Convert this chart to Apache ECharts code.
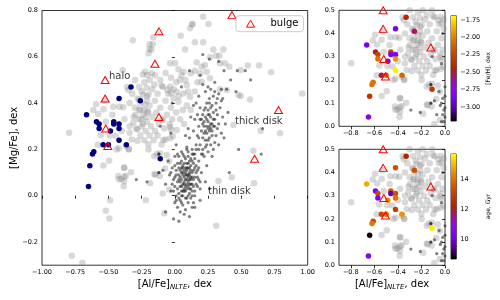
<!DOCTYPE html>
<html><head><meta charset="utf-8">
<script src="https://cdn.jsdelivr.net/npm/echarts@6/dist/echarts.min.js"></script>
<style>html,body{margin:0;padding:0;background:#fff}#c{width:500px;height:300px}</style>
</head><body><div id="c"></div>
<script>
// ---- DATA ----
// halo stars: [Al/Fe], [Mg/Fe], [Fe/H], age (Gyr)
const haloX = [-0.33,-0.42,-0.26,-0.665,-0.59,-0.57,-0.46,-0.46,-0.42,-0.57,-0.485,-0.42,-0.42,-0.54,-0.50,-0.365,-0.61,-0.62,-0.11,-0.64,-0.65];
const haloY = [0.47,0.42,0.41,0.35,0.32,0.31,0.32,0.31,0.31,0.29,0.28,0.29,0.24,0.22,0.22,0.22,0.19,0.18,0.16,0.13,0.04];
const haloFeH = [-2.42,-2.85,-2.55,-2.88,-2.50,-2.25,-2.25,-2.85,-2.85,-2.05,-2.85,-1.93,-1.72,-2.50,-2.10,-2.10,-2.05,-2.05,-2.30,-2.32,-2.80];
const haloAge = [12.3,13.4,13.4,14.8,10.3,13.2,13.5,9.6,13.3,10.2,14.4,14.0,13.0,13.2,14.0,14.5,13.2,14.1,15.5,8.75,10.3];
// bulge stars
const bulgeX = [-0.525,-0.525,-0.52,-0.505,-0.15,-0.12,-0.12,0.43,0.78,0.60];
const bulgeY = [0.50,0.42,0.29,0.215,0.57,0.71,0.34,0.78,0.37,0.16];
// comparison sample (light grey)
const fieldStars = [
[-0.796,0.272],[-0.776,-0.259],[-0.696,-0.289],[-0.614,0.37],[-0.577,0.353],[-0.593,0.395],[-0.538,0.373],[-0.463,0.384],[-0.418,0.384],[-0.388,0.382],
[-0.558,0.262],[-0.446,0.258],[-0.421,0.205],[-0.346,0.202],[-0.2,0.222],[-0.282,0.238],[-0.495,0.151],[-0.33,0.101],[-0.404,0.072],[-0.37,0.086],
[-0.186,0.054],[-0.487,-0.019],[-0.219,-0.02],[-0.52,-0.065],[-0.493,-0.098],[-0.538,0.131],[-0.438,0.2],[-0.381,0.121],[-0.381,0.081],[-0.421,0.071],
[-0.385,0.041],[-0.347,0.2],[-0.147,0.091],[-0.136,0.18],[-0.087,0.327],[-0.036,0.298],[-0.087,0.241],[-0.036,0.248],[0.014,0.284],[-0.111,0.183],
[-0.061,0.176],[-0.074,0.118],[-0.154,0.094],[-0.091,0.01],[-0.079,-0.076],[0.328,0.064],[0.428,0.08],[0.591,0.194],[0.646,0.281],[0.441,0.305],
[0.312,-0.13],[0.596,0.054],[-0.317,0.672],[-0.191,0.654],[-0.166,0.654],[-0.191,0.634],[-0.176,0.63],[-0.198,0.615],[-0.163,0.684],[-0.393,0.542],
[-0.35,0.457],[-0.036,0.572],[0.002,0.572],[-0.224,0.536],[-0.207,0.521],[-0.241,0.524],[-0.174,0.529],
[0.213,0.773],[0.135,0.742],[0.253,0.742],[0.044,0.691],[0.151,0.663],[0.213,0.663],[0.077,0.632],[0.29,0.632],[0.365,0.632],[0.335,0.605],
[0.31,0.605],[0.265,0.598],[0.549,0.562],[0.634,0.562],[0.724,0.533],[0.496,0.543],[0.378,0.572],[0.34,0.572],[0.41,0.557],[0.959,0.442],
[0.566,0.416],[0.496,0.431],[0.027,0.546],[0.064,0.536],[0.164,0.576],[0.202,0.557],[0.226,0.565],[0.12,0.529],[0.151,0.54],[0.19,0.529],
[0.24,0.536],[0.265,0.507],[0.202,0.492],[0.039,0.5],[0.089,0.478],[0.34,0.46],[0.391,0.457],[0.479,0.435],[-0.036,0.471],[0.014,0.449],
[0.064,0.442],[-0.011,0.421],[0.027,0.406],[0.114,0.428],[0.792,0.27],[0.115,0.723],[0.128,0.74],
[-0.155,0.48],[-0.1,0.475],[-0.057,0.458],[-0.028,0.444],[-0.212,0.466],[-0.24,0.437],[-0.198,0.437],[-0.269,0.415],[-0.227,0.394],[-0.206,0.365],
[-0.269,0.372],[-0.297,0.35],[-0.254,0.329],[-0.312,0.315],[-0.283,0.286],[-0.34,0.272],[-0.325,0.243],[-0.368,0.214],[-0.382,0.121],[-0.425,0.085],
[-0.382,0.063],[-0.198,0.2],[-0.155,0.171],[-0.071,0.243],[-0.028,0.286],[-0.015,0.257],[-0.1,0.221],[-0.043,0.149],[-0.043,0.027],[-0.113,0.085],
[-0.30,0.50],[-0.27,0.47],[-0.23,0.49],[-0.19,0.50],[-0.15,0.52],[-0.11,0.50],[-0.07,0.53],[-0.03,0.51],[0.01,0.49],[0.05,0.52],
[-0.32,0.44],[-0.28,0.42],[-0.25,0.45],[-0.21,0.43],[-0.17,0.46],[-0.13,0.44],[-0.09,0.47],[-0.05,0.44],[-0.01,0.46],[0.03,0.43],
[-0.34,0.40],[-0.30,0.38],[-0.26,0.40],[-0.23,0.37],[-0.19,0.39],[-0.15,0.41],[-0.11,0.38],[-0.07,0.41],[-0.03,0.38],[0.01,0.36],
[-0.31,0.34],[-0.27,0.33],[-0.24,0.35],[-0.21,0.32],[-0.17,0.34],[-0.14,0.36],[-0.10,0.33],[-0.06,0.35],[-0.02,0.33],[0.04,0.33],
[-0.29,0.29],[-0.25,0.30],[-0.22,0.28],[-0.18,0.30],[-0.15,0.28],[-0.12,0.31],[-0.08,0.29],[-0.04,0.31],[0.07,0.31],[0.06,0.37],
[-0.26,0.26],[-0.23,0.24],[-0.19,0.26],[-0.16,0.24],[-0.13,0.26],[-0.21,0.41],[-0.24,0.31],[-0.22,0.34],[-0.20,0.36],[-0.26,0.37],
[-0.36,0.47],[-0.34,0.30],[-0.38,0.33],[-0.40,0.28],[-0.44,0.31],[-0.47,0.35],[-0.49,0.26],[-0.52,0.32],[-0.58,0.22],[-0.53,0.41],
[0.09,0.39],[0.10,0.45],[0.08,0.50],[0.12,0.37],[0.15,0.45],[0.17,0.49]
];
// thin disk stars (dark)
const thinDisk = [
[0.05,0.10],[0.07,0.11],[0.09,0.09],[0.11,0.10],[0.08,0.07],[0.10,0.06],[0.06,0.05],[0.12,0.08],[0.04,0.08],[0.13,0.05],
[0.03,0.12],[0.06,0.13],[0.10,0.12],[0.14,0.11],[0.08,0.04],[0.11,0.03],[0.05,0.02],[0.02,0.06],[0.15,0.08],[0.09,0.14],
[0.07,0.02],[0.12,0.13],[0.01,0.09],[0.04,0.04],[0.13,0.02],[0.16,0.05],[0.10,0.00],[0.06,0.00],[0.03,0.01],[0.08,0.12],
[0.12,0.16],[0.05,0.15],[0.02,0.14],[0.14,0.14],[0.17,0.11],[0.00,0.04],[0.07,0.17],[0.10,0.17],[0.15,0.02],[0.09,-0.01],
[0.04,-0.02],[0.12,-0.01],[0.01,0.00],[-0.01,0.07],[0.18,0.07],[0.16,0.13],[0.03,0.17],[0.11,0.07],[0.07,0.08],[0.09,0.05],
[0.05,0.07],[0.13,0.10],[0.08,0.10],[0.06,0.10],[0.10,0.09],[0.12,0.05],[0.07,0.05],[0.11,0.12],[0.04,0.11],[0.09,0.03],
[0.06,0.09],[0.08,0.09],[0.10,0.08],[0.12,0.07],[0.07,0.06],[0.09,0.07],[0.11,0.05],[0.05,0.04],[0.08,0.02],[0.10,0.04],
[0.06,0.12],[0.09,0.11],[0.11,0.09],[0.13,0.08],[0.04,0.06],[0.03,0.09],[0.07,0.14],[0.10,0.14],[0.12,0.11],[0.14,0.07],
[0.05,0.00],[0.08,-0.01],[0.11,0.01],[0.13,0.00],[0.02,0.03],[0.03,-0.01],[0.06,0.02],[0.14,0.04],[0.16,0.10],[0.15,0.12],
[0.01,0.11],[0.00,0.13],[0.04,0.14],[0.08,0.16],[0.11,0.15],[0.13,0.15],[0.17,0.08],[0.17,0.04],[-0.01,0.02],[0.02,0.18],
[0.06,0.18],[0.10,0.19],[0.13,0.18],[0.15,0.16],[0.18,0.12],[0.19,0.06],[0.01,-0.02],[0.05,-0.03],[0.10,-0.03],[0.13,-0.05],
[0.07,0.03],[0.09,0.12],[0.05,0.12],[0.12,0.03],[0.03,0.07],[0.15,0.00],[-0.02,0.05],[-0.03,0.10],[0.00,0.08],[0.07,-0.08],
[-0.02,0.12],[-0.03,0.02],[0.00,-0.03],[0.02,-0.05],[0.06,-0.04],[0.14,-0.03],[0.19,0.03],[0.20,0.10],[0.18,0.15],[0.14,0.18],
[0.05,0.19],[0.00,0.17],[-0.04,0.09],[-0.05,0.15],[0.09,0.20],[0.16,0.20],[0.21,0.18],[0.01,0.22],[-0.07,0.05],[-0.07,-0.07],
[-0.01,-0.10],[0.04,-0.07],[0.15,-0.05],[0.08,-0.06],[0.19,-0.02],[0.23,0.06],[-0.09,0.11],[-0.12,0.10],[-0.12,0.18],[-0.21,0.06],
[-0.29,0.07],[0.11,-0.09],[0.24,0.13],[0.03,-0.11]
];
// thick disk stars (dark)
const thickDisk = [
[0.22,0.30],[0.25,0.32],[0.27,0.29],[0.24,0.27],[0.29,0.33],[0.26,0.35],[0.23,0.34],[0.20,0.28],[0.28,0.26],[0.30,0.30],
[0.21,0.25],[0.25,0.24],[0.32,0.35],[0.27,0.38],[0.24,0.40],[0.31,0.40],[0.34,0.38],[0.29,0.43],[0.20,0.33],[0.18,0.30],
[0.17,0.26],[0.19,0.22],[0.23,0.21],[0.27,0.22],[0.31,0.26],[0.33,0.31],[0.36,0.34],[0.22,0.37],[0.19,0.38],[0.15,0.33],
[0.14,0.28],[0.16,0.22],[0.13,0.20],[0.20,0.18],[0.25,0.19],[0.29,0.20],[0.35,0.27],[0.38,0.31],[0.33,0.44],[0.27,0.46],
[0.23,0.45],[0.18,0.43],[0.14,0.39],[0.12,0.34],[0.11,0.25],[0.09,0.21],[0.21,0.48],[0.30,0.49],[0.36,0.42],[0.40,0.36],
[0.26,0.28],[0.24,0.30],[0.22,0.27],[0.28,0.31],[0.26,0.25],[0.23,0.24],[0.29,0.36],[0.25,0.37],[0.21,0.31],[0.30,0.23],
[0.17,0.35],[0.16,0.40],[0.33,0.22],[0.37,0.25],[0.10,0.29],[0.08,0.26],
[0.23,0.28],[0.25,0.29],[0.27,0.31],[0.24,0.33],[0.26,0.30],[0.28,0.28],[0.22,0.32],[0.25,0.35],[0.27,0.34],[0.29,0.30],
[0.23,0.38],[0.26,0.40],[0.28,0.39],[0.31,0.37],[0.30,0.33],[0.32,0.29],[0.24,0.22],[0.21,0.20],[0.18,0.25],[0.19,0.33],
[0.21,0.35],[0.26,0.42],[0.32,0.42],[0.35,0.46],[0.30,0.45],[0.25,0.47],[0.18,0.20],[0.15,0.18],[0.22,0.17],[0.28,0.17],
[0.21,0.61],[0.26,0.59],[0.33,0.58],[0.47,0.54],[0.57,0.50],[0.42,0.50],[0.53,0.54],[0.39,0.46],[0.35,0.41],[0.11,0.54],
[0.37,0.54],[0.46,0.45],[0.19,0.52],[0.05,0.47],[-0.02,0.40],
[-0.11,0.30],[-0.03,0.27],[-0.12,0.18],[-0.12,0.10],[0.66,0.29],[0.48,0.20],[0.41,0.10],[0.26,0.03],[0.65,0.18]
];
const mainXTicks = [-1,-0.75,-0.5,-0.25,0,0.25,0.5,0.75,1];
const mainYTicks = [-0.2,0,0.2,0.4,0.6,0.8];
const sideXTicks = [-0.8,-0.6,-0.4,-0.2,0];
const sideYTicks = [0,0.1,0.2,0.3,0.4,0.5];
const fehTicks = [-3,-2.75,-2.5,-2.25,-2,-1.75];
const ageTicks = [10,12,14];
const fehRange = [-3.2,-1.69];
const ageRange = [8.67,15.67];

// ---- STYLE ----
const FONT = 'DejaVu Sans';
const gnuplot = ['#000000','#510096','#7202f2','#8c07f2','#a11096','#b42000','#c63700','#d55700','#e48300','#f2ba00','#ffff00'];
const fmt = d => v => (v < -1e-9 ? '\u2212' : '') + Math.abs(v).toFixed(d);
const dark = [...thinDisk, ...thickDisk];
const halo = haloX.map((x,i)=>[x,haloY[i]]);
const haloFe = haloX.map((x,i)=>[x,haloY[i],haloFeH[i]]);
const haloAg = haloX.map((x,i)=>[x,haloY[i],haloAge[i]]);
const bulge = bulgeX.map((x,i)=>[x,bulgeY[i]]);

function xAx(idx, min, max, ticks, dec, name){
  const a = {gridIndex: idx, type:'value', min, max, scale:true,
    axisLine:{show:false}, splitLine:{show:false},
    axisTick:{show:true, length:3, inside:false, lineStyle:{color:'#000',width:0.8}, customValues:ticks},
    axisLabel:{show:true, margin:4, fontSize:6.5, fontFamily:FONT, color:'#000', formatter:fmt(dec), customValues:ticks}};
  if (name){
    a.name = '[Al/Fe]{s|NLTE}, dex'; a.nameLocation='middle'; a.nameGap=13; a.nameMoveOverlap=false;
    a.nameTextStyle = {fontSize:10, fontFamily:FONT, color:'#000', rich:{s:{fontSize:7, fontStyle:'italic', fontFamily:FONT, color:'#000', padding:[5,0,0,0]}}};
  }
  return a;
}
function yAx(idx, min, max, ticks, dec, pos, name, gap){
  const a = {gridIndex: idx, type:'value', min, max, position:pos||'left',
    axisLine:{show:false}, splitLine:{show:false},
    axisTick:{show:true, length:3, lineStyle:{color:'#000',width:0.8}, customValues:ticks},
    axisLabel:{show:true, margin:4, fontSize:6.5, fontFamily:FONT, color:'#000', formatter:fmt(dec), customValues:ticks}};
  if (name){ a.name=name; a.nameLocation='middle'; a.nameGap=gap; a.nameRotate=90; a.nameMoveOverlap=false;
    a.nameTextStyle={fontSize: pos==='right'?6:10, fontFamily:FONT, color:'#000'}; }
  return a;
}
const gridBase = {show:true, borderColor:'#000', borderWidth:0.8, backgroundColor:'transparent', containLabel:false, outerBoundsMode:'none'};
const lightStyle = {color:'rgba(128,128,128,0.3)', opacity:1};
const darkStyle = {color:'rgba(25,25,25,0.55)', opacity:1};
const triStyle = {color:'rgba(255,255,255,0)', borderColor:'#ff0000', borderWidth:1, opacity:1};

function panelSeries(gi, haloData, colorByVM){
  return [
    {type:'scatter', xAxisIndex:gi, yAxisIndex:gi, data:fieldStars, symbolSize:6.5, itemStyle:lightStyle, silent:true},
    {type:'scatter', xAxisIndex:gi, yAxisIndex:gi, data:dark, symbolSize:3.2, itemStyle:darkStyle, silent:true},
    colorByVM ? {type:'scatter', xAxisIndex:gi, yAxisIndex:gi, data:haloData, symbolSize:5.5, itemStyle:{opacity:1}, silent:true}
              : {type:'scatter', xAxisIndex:gi, yAxisIndex:gi, data:haloData, symbolSize:5.5, itemStyle:{color:'#000080', opacity:1}, silent:true},
    {type:'scatter', name:'bulge', xAxisIndex:gi, yAxisIndex:gi, data:bulge, symbol:'triangle', symbolSize:[8,7], itemStyle:triStyle, silent:true}
  ];
}
function cbarSeries(gi, range){
  return {type:'custom', xAxisIndex:gi, yAxisIndex:gi, data:[[0.5, range[0]]], silent:true,
    renderItem:(params, api)=>{
      const cs = params.coordSys;
      return {type:'rect', shape:{x:cs.x, y:cs.y, width:cs.width, height:cs.height},
        style:{fill:new echarts.graphic.LinearGradient(0,1,0,0, gnuplot.map((c,i)=>({offset:i/(gnuplot.length-1), color:c})))}};
    }};
}

const chart = echarts.init(document.getElementById('c'), null, {renderer:'canvas'});
chart.setOption({
  animation:false,
  backgroundColor:'#fff',
  grid:[
    Object.assign({left:42, top:10.5, width:265.7, height:254.7}, gridBase),
    Object.assign({left:339, top:10.3, width:106, height:116}, gridBase),
    Object.assign({left:339, top:149.3, width:106, height:116}, gridBase),
    Object.assign({left:451, top:15.7, width:5.3, height:105.3}, gridBase),
    Object.assign({left:451, top:154, width:5.3, height:105}, gridBase)
  ],
  xAxis:[
    xAx(0,-1,1,mainXTicks,2,true),
    xAx(1,-0.9,0,sideXTicks,1,false),
    xAx(2,-0.9,0,sideXTicks,1,true),
    {gridIndex:3, type:'value', min:0, max:1, show:false},
    {gridIndex:4, type:'value', min:0, max:1, show:false}
  ],
  yAxis:[
    yAx(0,-0.3,0.8,mainYTicks,1,'left','[Mg/Fe], dex',23),
    yAx(1,0,0.5,sideYTicks,1,'left'),
    yAx(2,0,0.5,sideYTicks,1,'left'),
    yAx(3,fehRange[0],fehRange[1],fehTicks,2,'right','[Fe/H], dex',29),
    yAx(4,ageRange[0],ageRange[1],ageTicks,0,'right','age, Gyr',29)
  ],
  visualMap:[
    {type:'continuous', show:false, seriesIndex:6, dimension:2, min:fehRange[0], max:fehRange[1], inRange:{color:gnuplot}},
    {type:'continuous', show:false, seriesIndex:10, dimension:2, min:ageRange[0], max:ageRange[1], inRange:{color:gnuplot}}
  ],
  legend:{data:['bulge'], left:236, top:15.7, orient:'horizontal', padding:[3,5,3,10], itemWidth:8, itemHeight:7,
    backgroundColor:'#fff', borderColor:'#cccccc', borderWidth:1, borderRadius:3, selectedMode:false,
    itemStyle:{color:'rgba(255,255,255,0)', borderColor:'#ff0000', borderWidth:1},
    textStyle:{fontSize:10, fontFamily:FONT, color:'#000', padding:[0,0,0,11]}},
  graphic:[
    {type:'text', left:109, top:71.5, silent:true, style:{text:'halo', fontSize:10, fontFamily:FONT, fill:'#3a3a3a'}},
    {type:'text', left:235, top:116, silent:true, style:{text:'thick disk', fontSize:10, fontFamily:FONT, fill:'#3a3a3a'}},
    {type:'text', left:208, top:186.5, silent:true, style:{text:'thin disk', fontSize:10, fontFamily:FONT, fill:'#3a3a3a'}}
  ],
  series:[
    ...panelSeries(0, halo, false),
    ...panelSeries(1, haloFe, true),
    ...panelSeries(2, haloAg, true),
    cbarSeries(3, fehRange),
    cbarSeries(4, ageRange)
  ]
});
</script></body></html>
